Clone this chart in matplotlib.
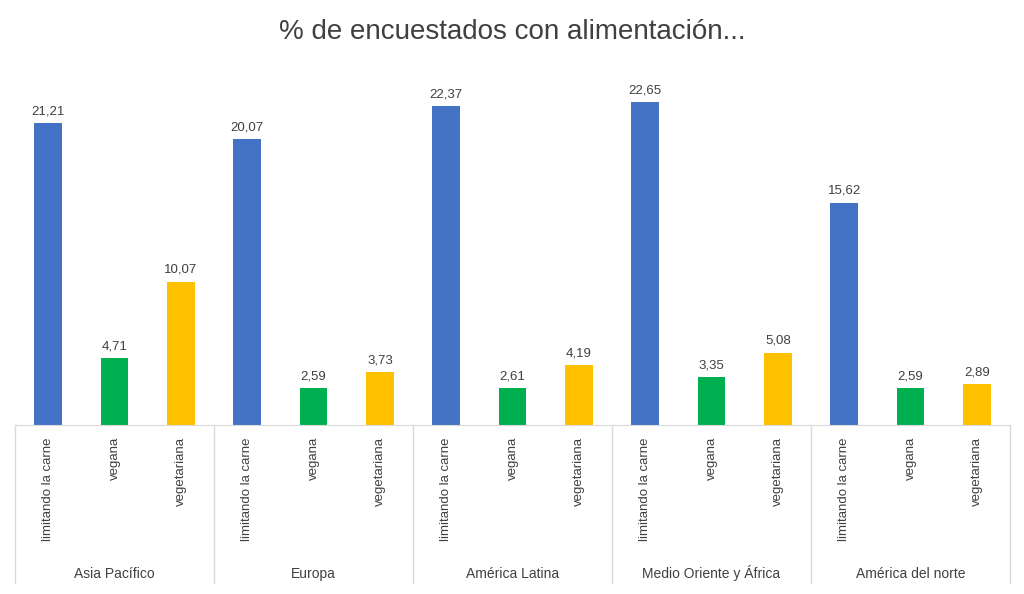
import matplotlib.pyplot as plt
import matplotlib.transforms as mtransforms

regions = ['Asia Pacífico', 'Europa', 'América Latina', 'Medio Oriente y África', 'América del norte']
diets = ['limitando la carne', 'vegana', 'vegetariana']
limitando = [21.21, 20.07, 22.37, 22.65, 15.62]
vegana = [4.71, 2.59, 2.61, 3.35, 2.59]
vegetariana = [10.07, 3.73, 4.19, 5.08, 2.89]
colors = ['#4472C4', '#00B050', '#FFC000']

plt.rcParams['font.family'] = ['Liberation Sans', 'DejaVu Sans']

fig = plt.figure(figsize=(10.24, 5.94), dpi=100)
W, H = 1024, 594
y0, y1 = 425, 80
ax = fig.add_axes([15 / W, 1 - y0 / H, 995 / W, (y0 - y1) / H])
trans = mtransforms.blended_transform_factory(ax.transData, ax.transAxes)

series = [limitando, vegana, vegetariana]
for g in range(len(regions)):
    for k in range(3):
        x = g * 3 + k
        v = series[k][g]
        ax.bar(x, v, width=0.42, color=colors[k])
        ax.text(x, v + 0.4, f'{v:.2f}'.replace('.', ','), ha='center', va='bottom',
                fontsize=9.5, color='#404040')
        ax.text(x, -0.035, diets[k], rotation=90, ha='center', va='top',
                fontsize=9.5, color='#404040', transform=trans)

box_bottom = -(583 - y0) / (y0 - y1)
for g in range(len(regions) + 1):
    ax.plot([g * 3 - 0.5, g * 3 - 0.5], [0, box_bottom], color='#D9D9D9', lw=1,
            transform=trans, clip_on=False)
for g, r in enumerate(regions):
    ax.text(g * 3 + 1, -(578 - y0) / (y0 - y1), r, ha='center', va='baseline',
            fontsize=10, color='#404040', transform=trans)

ax.set_xlim(-0.5, 14.5)
ax.set_ylim(0, (y0 - y1) / 14.24)
ax.set_xticks([])
ax.set_yticks([])
for s in ['top', 'left', 'right']:
    ax.spines[s].set_visible(False)
ax.spines['bottom'].set_color('#D9D9D9')

fig.text(0.5, 1 - 32 / H, '% de encuestados con alimentación...', ha='center', va='center',
         fontsize=20, color='#404040')

fig.savefig('out.png', dpi=100)
